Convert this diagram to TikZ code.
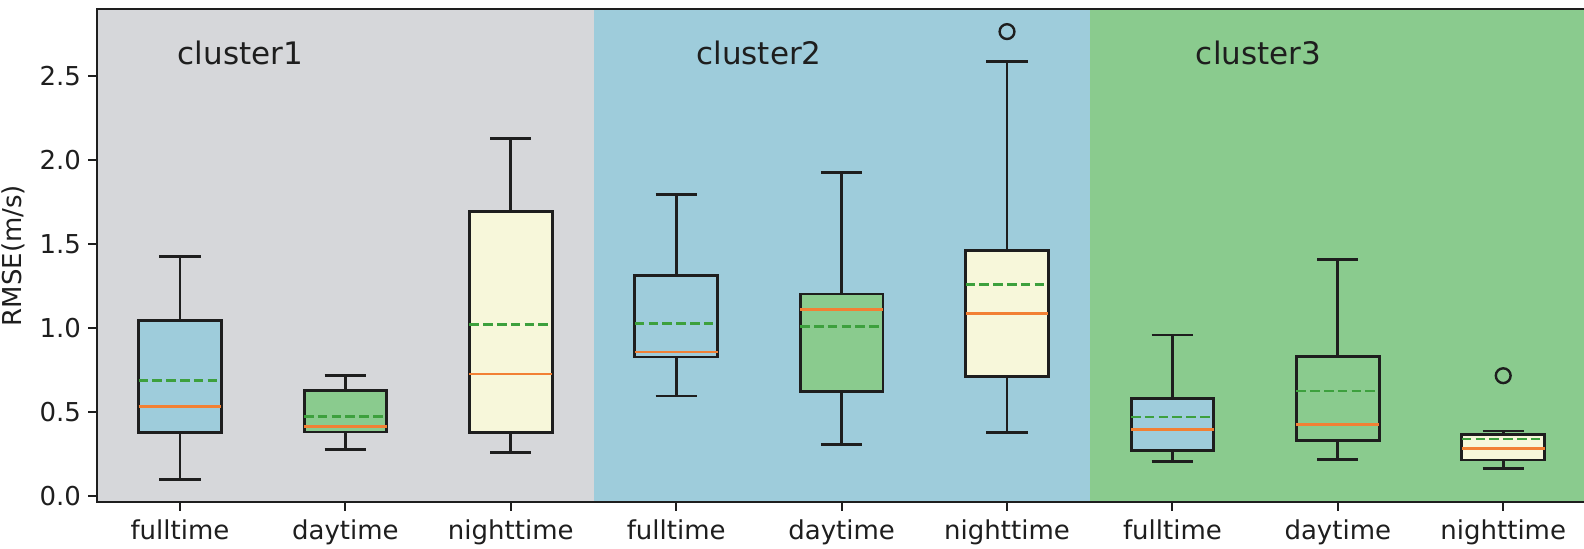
\documentclass[tikz,border=0pt]{standalone}
\usepackage{fontspec}
\setmainfont{DejaVu Sans}
\definecolor{bggray}{HTML}{D6D7DA}
\definecolor{bgblue}{HTML}{9ECCDB}
\definecolor{bggreen}{HTML}{8ACB8E}
\definecolor{bxyellow}{HTML}{F7F7DA}
\definecolor{medorange}{HTML}{F28034}
\definecolor{meangreen}{HTML}{3DA03D}
\definecolor{ink}{HTML}{1E1E1E}
\tikzset{
  whisk/.style={draw=ink, line width=1.45pt, line join=miter},
  medline/.style={draw=medorange, line width=1.45pt},
  meanline/.style={draw=meangreen, line width=1.45pt, dash pattern=on 4.8pt off 2.1pt},
  flier/.style={draw=ink, line width=1.2pt, fill=none},
  spine/.style={draw=ink, line width=1.05pt},
  ticklab/.style={font=\fontsize{13pt}{15pt}\selectfont, text=ink, inner sep=0pt},
  clusterlab/.style={font=\fontsize{15.5pt}{18pt}\selectfont, text=ink, inner sep=0pt, anchor=base west},
}
\newcommand{\bplot}[8]{%
  \draw[whisk] (#1,#3) -- (#1,#4) (#1,#7) -- (#1,#8);
  \draw[whisk] (#1-0.125,#3) -- (#1+0.125,#3) (#1-0.125,#8) -- (#1+0.125,#8);
  \filldraw[whisk, fill=#2] (#1-0.25,#4) rectangle (#1+0.25,#7);
  \draw[medline] (#1-0.25,#5) -- (#1+0.25,#5);
  \draw[meanline] (#1-0.25,#6) -- (#1+0.25,#6);
}
\begin{document}
\begin{tikzpicture}[x=82.7pt, y=84pt]
\useasboundingbox (-7.3pt,-25.85pt) rectangle (784.7pt,248.15pt);
% backgrounds
\fill[bggray]  (0.5,-0.034) rectangle (3.5,2.9006);
\fill[bgblue]  (3.5,-0.034) rectangle (6.5,2.9006);
\fill[bggreen] (6.5,-0.034) rectangle (9.5,2.9006);
% cluster labels
\node[clusterlab] (c1) at (0.985,2.571) {cluster1};
\node[clusterlab] (c2) at (4.12,2.571) {cluster2};
\node[clusterlab] (c3) at (7.14,2.571) {cluster3};
% boxes
\bplot{1}{bgblue}{0.099}{0.379}{0.533}{0.690}{1.044}{1.430}
\bplot{2}{bggreen}{0.280}{0.383}{0.414}{0.476}{0.631}{0.718}
\bplot{3}{bxyellow}{0.260}{0.379}{0.728}{1.024}{1.697}{2.128}
\bplot{4}{bgblue}{0.597}{0.829}{0.859}{1.030}{1.313}{1.798}
\bplot{5}{bggreen}{0.309}{0.625}{1.113}{1.010}{1.204}{1.926}
\bplot{6}{bxyellow}{0.379}{0.714}{1.089}{1.260}{1.464}{2.589}
\bplot{7}{bgblue}{0.208}{0.270}{0.395}{0.472}{0.583}{0.960}
\bplot{8}{bggreen}{0.218}{0.333}{0.428}{0.627}{0.831}{1.408}
\bplot{9}{bxyellow}{0.168}{0.216}{0.286}{0.341}{0.367}{0.389}
% fliers
\draw[flier] (6,2.766) circle (3.7pt);
\draw[flier] (9,0.718) circle (3.7pt);
% spines
\draw[spine] (9.6,-0.034) -- (0.5,-0.034) -- (0.5,2.9006) -- (9.6,2.9006);
% y ticks
\foreach \v/\t in {0/0.0,0.5/0.5,1/1.0,1.5/1.5,2/2.0,2.5/2.5}{
  \draw[spine] (0.5,\v) -- ++(-4.5pt,0);
  \node[ticklab, anchor=east] (y\t) at ([xshift=-8pt]0.5,\v) {\t};
}
% x ticks
\foreach \p/\t in {1/fulltime,2/daytime,3/nighttime,4/fulltime,5/daytime,6/nighttime,7/fulltime,8/daytime,9/nighttime}{
  \draw[spine] (\p,-0.034) -- ++(0,-4.5pt);
  \node[ticklab, anchor=base] (x\p) at (\p,-0.260) {\t};
}
\node[ticklab, rotate=90] (ylab) at (-0.0097,1.433) {RMSE(m/s)};
\end{tikzpicture}
\end{document}
